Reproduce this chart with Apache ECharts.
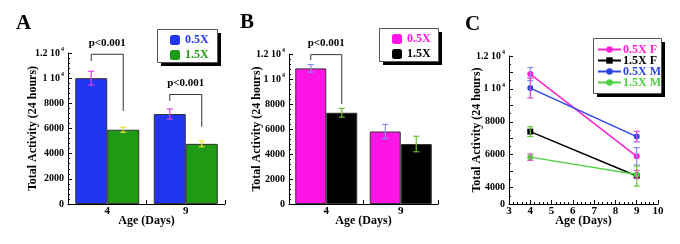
<!DOCTYPE html>
<html>
<head>
<meta charset="utf-8">
<script src="https://cdn.jsdelivr.net/npm/echarts@6/dist/echarts.min.js"></script>
<style>html,body{margin:0;padding:0;background:#fff}#c{width:680px;height:244px}</style>
</head>
<body>
<div id="c"></div>
<script>
// ---- data ----
const days = ['4', '9'];
const dayNums = [4, 9];
// Panel A (males)
const maleLow = [10000, 7150];
const maleLowErr = [550, 400];
const maleHigh = [5900, 4780];
const maleHighErr = [200, 230];
// Panel B (females)
const femLow = [10850, 5800];
const femLowErr = [300, 570];
const femHigh = [7300, 4800];
const femHighErr = [350, 620];
// Panel C (all groups)
const cFemLow = [10900, 5900];
const cFemLowErr = [400, 530];
const cFemHigh = [7400, 4700];
const cFemHighErr = [300, 610];
const cMaleLow = [10050, 7100];
const cMaleLowErr = [600, 320];
const cMaleHigh = [5850, 4800];
const cMaleHighErr = [200, 230];
// significance brackets: [category, bracket level, left leg end, right leg end]
const bracketsA = [[0, 11900, 11370, 7400], [1, 8700, 8200, 6150]];
const bracketsB = [[0, 11950, 11520, 8000]];
const pText = 'p<0.001';
// tick labels
const yTicksAB = {0: '0', 2000: '2000', 4000: '4000', 6000: '6000', 8000: '8000', 10000: '1 10|4', 12000: '1.2 10|4'};
const yTicksC = {3000: '0', 4000: '4000', 6000: '6000', 8000: '8000', 10000: '1 10|4', 12000: '1.2 10|4'};
const cNames = ['C 0.5X F', 'C 1.5X F', 'C 0.5X M', 'C 1.5X M'];

// ---- styling ----
const FF = '"Liberation Serif", "DejaVu Serif", serif';
const blue = '#2236f2', green = '#1e9a14', pink = '#ff14e6', black = '#000';
const lMag = '#ff22d2', lBlue = '#2c46e0', lGreen = '#52d044';
const cColors = [lMag, black, lBlue, lGreen];

function tickFmt(map) {
  return function (v) {
    const t = map[v];
    if (t === undefined) return '';
    if (t.indexOf('|') >= 0) {
      const p = t.split('|');
      return '{b|' + p[0] + '}{s|' + p[1] + '}';
    }
    return '{b|' + t + '}';
  };
}
const labelRich = {
  b: {fontFamily: FF, fontWeight: 'bold', fontSize: 10, color: '#000'},
  s: {fontFamily: FF, fontWeight: 'bold', fontSize: 6, color: '#000', padding: [0, 0, 7, 1]}
};
const nameStyle = {fontFamily: FF, fontWeight: 'bold', fontSize: 12, color: '#000'};
const axLine = {show: true, onZero: false, lineStyle: {color: '#000', width: 1}};

function yAxisDef(grid, min, max, interval, minorSplit, map, gap) {
  return {
    type: 'value', gridIndex: grid, min: min, max: max, interval: interval,
    name: 'Total Activity (24 hours)', nameLocation: 'middle', nameGap: gap, nameTextStyle: nameStyle,
    nameMoveOverlap: false,
    axisLine: axLine, axisTick: {show: true, inside: true, length: 4, lineStyle: {color: '#000'}},
    minorTick: {show: true, splitNumber: minorSplit, length: 2, lineStyle: {color: '#000'}},
    splitLine: {show: false}, minorSplitLine: {show: false},
    axisLabel: {formatter: tickFmt(map), margin: 4, rich: labelRich}
  };
}
function xCatDef(grid) {
  return {
    type: 'category', gridIndex: grid, data: days,
    name: 'Age (Days)', nameLocation: 'middle', nameGap: 11, nameTextStyle: nameStyle, nameMoveOverlap: false,
    axisLine: axLine, axisTick: {show: true, inside: true, length: 4, lineStyle: {color: '#000'}},
    axisLabel: {fontFamily: FF, fontWeight: 'bold', fontSize: 11, color: '#000', margin: 2}
  };
}

function errSeries(name, xi, yi, xs, vals, errs, offset, color) {
  return {
    type: 'custom', name: name, xAxisIndex: xi, yAxisIndex: yi, z: 10,
    data: vals.map((v, i) => [xs[i], v, errs[i]]),
    renderItem: function (params, api) {
      const x = api.value(0), v = api.value(1), e = api.value(2);
      const t = api.coord([x, v + e]);
      const b = api.coord([x, v - e]);
      const cx = t[0] + offset, w = 3;
      const st = {stroke: color, lineWidth: 1.2, fill: null};
      return {type: 'group', children: [
        {type: 'line', shape: {x1: cx, y1: t[1], x2: cx, y2: b[1]}, style: st},
        {type: 'line', shape: {x1: cx - w, y1: t[1], x2: cx + w, y2: t[1]}, style: st},
        {type: 'line', shape: {x1: cx - w, y1: b[1], x2: cx + w, y2: b[1]}, style: st}
      ]};
    }
  };
}
function bracketSeries(xi, yi, data, off) {
  return {
    type: 'custom', xAxisIndex: xi, yAxisIndex: yi, z: 11,
    data: data,
    renderItem: function (params, api) {
      const c = api.value(0);
      const top = api.coord([c, api.value(1)]);
      const l = api.coord([c, api.value(2)]);
      const r = api.coord([c, api.value(3)]);
      const x0 = top[0] - off, x1 = top[0] + off;
      return {type: 'group', children: [
        {type: 'polyline', shape: {points: [[x0, l[1]], [x0, top[1]], [x1, top[1]], [x1, r[1]]]},
          style: {stroke: '#333', lineWidth: 1, fill: null}},
        {type: 'text', style: {text: pText, x: (x0 + x1) / 2, y: top[1] - 11, align: 'center', verticalAlign: 'middle',
          fontFamily: FF, fontWeight: 'bold', fontSize: 11, fill: '#000'}}
      ]};
    }
  };
}
function barSeries(name, xi, yi, vals, color, w) {
  return {type: 'bar', name: name, xAxisIndex: xi, yAxisIndex: yi, data: vals, barWidth: w, barGap: '0%',
    itemStyle: {color: color, borderColor: '#333', borderWidth: 1}};
}
function lineSeries(name, vals, color, symbol) {
  return {type: 'line', name: name, xAxisIndex: 2, yAxisIndex: 2, data: vals.map((v, i) => [dayNums[i], v]),
    symbol: symbol, symbolSize: 6, lineStyle: {color: color, width: 1.5}, itemStyle: {color: color}, z: 5};
}
function legendDef(left, top, names, colors, opts) {
  return Object.assign({
    left: left, top: top, orient: 'vertical', z: 20,
    itemWidth: 10, itemHeight: 10, itemGap: 3, selectedMode: false,
    itemStyle: {borderWidth: 0},
    formatter: n => n.slice(2),
    textStyle: {fontFamily: FF, fontWeight: 'bold', fontSize: 12},
    data: names.map((n, i) => ({name: n, textStyle: {color: colors[i]}}))
  }, opts);
}
// legend frames (decoration): [left, top, width, height]
const frames = [[157, 29, 60, 33], [379, 28, 59, 33], [593, 38, 68, 55]];
const graphics = [];
frames.forEach(f => {
  graphics.push({type: 'rect', z: 1, shape: {x: f[0] + 4, y: f[1] + 4, width: f[2], height: f[3]}, style: {fill: '#000'}});
  graphics.push({type: 'rect', z: 2, shape: {x: f[0] + 0.5, y: f[1] + 0.5, width: f[2], height: f[3]}, style: {fill: '#fff', stroke: '#555', lineWidth: 1}});
});

const legends = [
  legendDef(157, 29, ['A 0.5X', 'A 1.5X'], [blue, green], {padding: [5, 6, 5, 13]}),
  legendDef(379, 28, ['B 0.5X', 'B 1.5X'], [pink, black], {padding: [5, 6, 5, 13]})
];
cNames.forEach((n, i) => {
  legends.push(legendDef(597, 43.5 + i * 11, [n], [cColors[i]],
    {padding: 0, itemWidth: 23, itemHeight: 8,
     textStyle: {fontFamily: FF, fontWeight: 'bold', fontSize: 12, padding: [0, 0, 0, -3]}}));
});

const option = {
  animation: false,
  backgroundColor: '#fff',
  graphic: graphics,
  title: [
    {text: 'A', left: 16, top: 13, padding: 0, textStyle: {fontFamily: FF, fontWeight: 'bold', fontSize: 21, color: '#000'}},
    {text: 'B', left: 240, top: 12, padding: 0, textStyle: {fontFamily: FF, fontWeight: 'bold', fontSize: 21, color: '#000'}},
    {text: 'C', left: 465, top: 14, padding: 0, textStyle: {fontFamily: FF, fontWeight: 'bold', fontSize: 21, color: '#000'}}
  ],
  grid: [
    {left: 68, top: 53, width: 157, height: 151},
    {left: 289, top: 54, width: 149, height: 150},
    {left: 509, top: 56, width: 149, height: 148}
  ],
  xAxis: [
    xCatDef(0), xCatDef(1),
    {type: 'value', gridIndex: 2, min: 3, max: 10, interval: 1,
      name: 'Age (Days)', nameLocation: 'middle', nameGap: 11, nameTextStyle: nameStyle, nameMoveOverlap: false,
      axisLine: axLine, axisTick: {show: true, inside: true, length: 4, lineStyle: {color: '#000'}},
      minorTick: {show: true, splitNumber: 5, length: 2, lineStyle: {color: '#000'}},
      splitLine: {show: false},
      axisLabel: {fontFamily: FF, fontWeight: 'bold', fontSize: 11, color: '#000', margin: 2}}
  ],
  yAxis: [
    yAxisDef(0, 0, 12000, 2000, 5, yTicksAB, 29),
    yAxisDef(1, 0, 12000, 2000, 5, yTicksAB, 26),
    yAxisDef(2, 3000, 12000, 1000, 2, yTicksC, 26)
  ],
  legend: legends,
  series: [
    barSeries('A 0.5X', 0, 0, maleLow, blue, 32),
    barSeries('A 1.5X', 0, 0, maleHigh, green, 32),
    errSeries('eA1', 0, 0, [0, 1], maleLow, maleLowErr, -16, '#e040e0'),
    errSeries('eA2', 0, 0, [0, 1], maleHigh, maleHighErr, 16, '#e6e030'),
    bracketSeries(0, 0, bracketsA, 16),
    barSeries('B 0.5X', 1, 1, femLow, pink, 31),
    barSeries('B 1.5X', 1, 1, femHigh, black, 31),
    errSeries('eB1', 1, 1, [0, 1], femLow, femLowErr, -15.5, '#8888ee'),
    errSeries('eB2', 1, 1, [0, 1], femHigh, femHighErr, 15.5, '#66c036'),
    bracketSeries(1, 1, bracketsB, 15.5),
    errSeries('eC1', 2, 2, dayNums, cFemLow, cFemLowErr, 0, '#8888ee'),
    errSeries('eC2', 2, 2, dayNums, cFemHigh, cFemHighErr, 0, '#66c036'),
    errSeries('eC3', 2, 2, dayNums, cMaleLow, cMaleLowErr, 0, '#e040e0'),
    errSeries('eC4', 2, 2, dayNums, cMaleHigh, cMaleHighErr, 0, '#e060c0'),
    lineSeries(cNames[0], cFemLow, lMag, 'circle'),
    lineSeries(cNames[1], cFemHigh, black, 'rect'),
    lineSeries(cNames[2], cMaleLow, lBlue, 'circle'),
    lineSeries(cNames[3], cMaleHigh, lGreen, 'circle')
  ]
};
const chart = echarts.init(document.getElementById('c'), null, {renderer: 'canvas'});
chart.setOption(option);
</script>
</body>
</html>
